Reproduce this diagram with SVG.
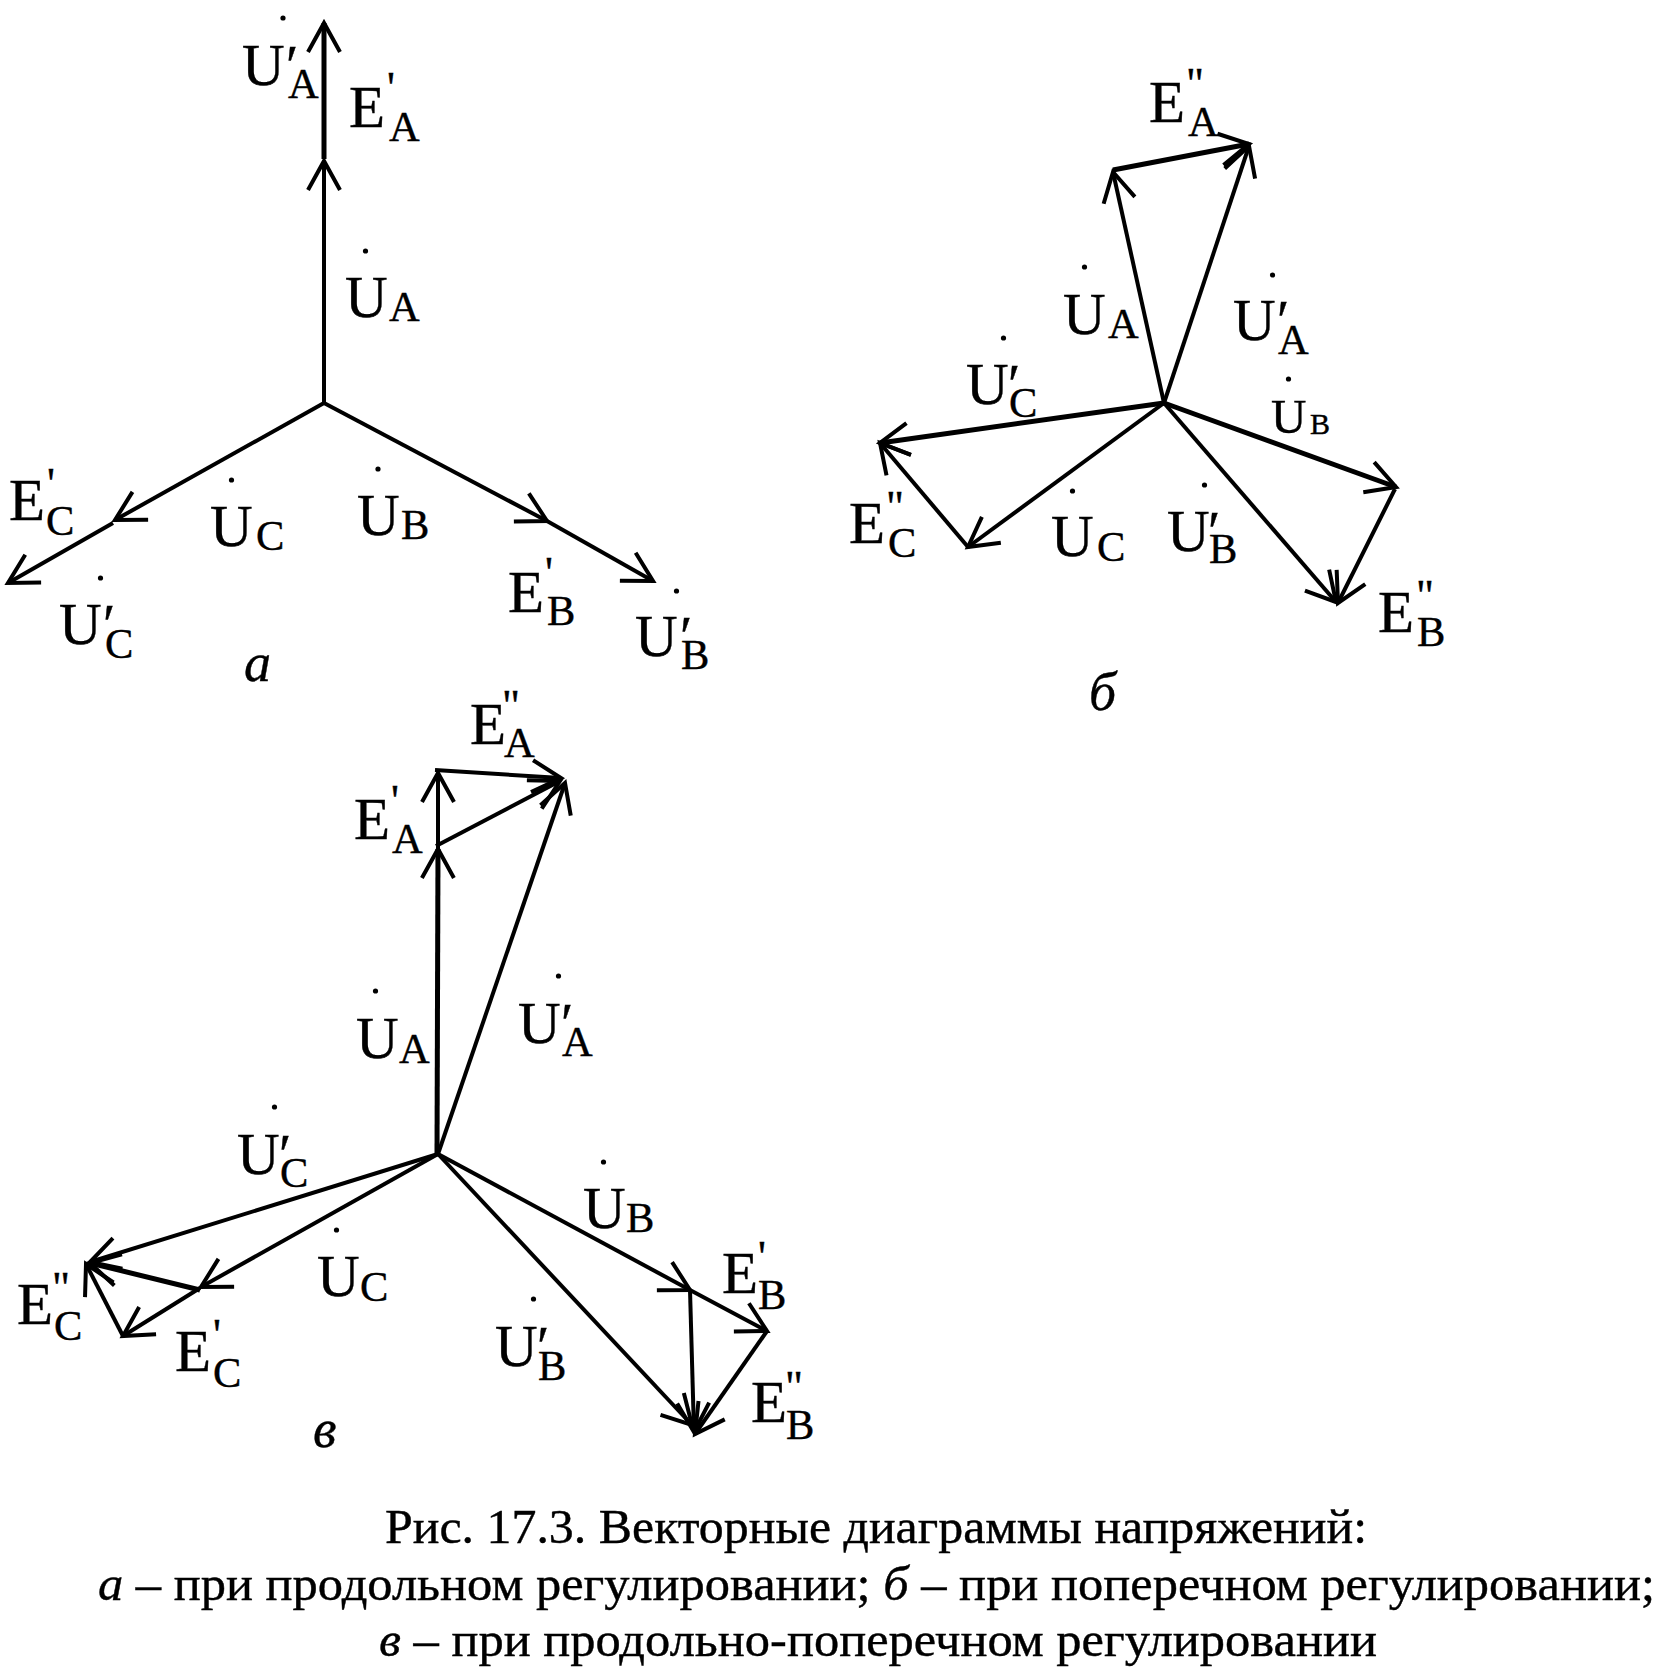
<svg xmlns="http://www.w3.org/2000/svg" width="1663" height="1669" viewBox="0 0 1663 1669">
<style>
text{font-family:"Liberation Serif","Times New Roman",serif;fill:#000;stroke:#000;stroke-width:.4}
.m{font-size:59px}.ms{font-size:49px}.s{font-size:42.5px}.xs{font-size:30px}.q{font-size:44px}.pr{font-size:56px}
.i{font-size:54px;font-style:italic}.c{font-size:47.5px}
.l{stroke:#000;stroke-width:4;fill:none;marker-end:url(#h)}.t{stroke-width:5}
</style>
<defs><marker id="h" markerUnits="userSpaceOnUse" markerWidth="80" markerHeight="80" viewBox="-40 -40 80 80" refX="0" refY="0" orient="auto" overflow="visible"><path d="M-29-16L0 0L-29 16" fill="none" stroke="#000" stroke-width="4"/></marker></defs>
<rect width="1663" height="1669" fill="#fff"/>
<g id="connectors">
<g id="conn-a">
<line class="l t" x1="324" y1="159" x2="324" y2="23"/>
<line class="l" x1="324" y1="403" x2="324" y2="161"/>
<line class="l" x1="324" y1="403" x2="115" y2="520"/>
<line class="l" x1="113" y1="523" x2="8" y2="583"/>
<line class="l" x1="324" y1="403" x2="547" y2="521"/>
<line class="l" x1="547" y1="521" x2="653" y2="581"/>
</g>
<g id="conn-b">
<line class="l" x1="1164" y1="403" x2="1113" y2="172"/>
<line class="l t" x1="1113" y1="170" x2="1249" y2="144"/>
<line class="l" x1="1164" y1="403" x2="1249" y2="146"/>
<line class="l t" x1="1164" y1="403" x2="880" y2="443"/>
<line class="l" x1="968" y1="547" x2="880" y2="443"/>
<line class="l" x1="1164" y1="403" x2="968" y2="547"/>
<line class="l t" x1="1164" y1="403" x2="1396" y2="487"/>
<line class="l" x1="1395" y1="489" x2="1338" y2="603"/>
<line class="l" x1="1164" y1="403" x2="1336" y2="602"/>
</g>
<g id="conn-c">
<line class="l t" x1="437" y1="1154" x2="438" y2="849"/>
<line class="l" x1="438" y1="849" x2="438" y2="773"/>
<line class="l" x1="435" y1="770" x2="561" y2="778"/>
<line class="l" x1="436" y1="846" x2="560" y2="781"/>
<line class="l" x1="438" y1="1154" x2="565" y2="783"/>
<line class="l" x1="438" y1="1154" x2="90" y2="1262"/>
<line class="l" x1="123" y1="1336" x2="86" y2="1264"/>
<line class="l t" x1="200" y1="1290" x2="90" y2="1263"/>
<line class="l" x1="438" y1="1154" x2="201" y2="1287"/>
<line class="l" x1="200" y1="1288" x2="123" y2="1336"/>
<line class="l" x1="438" y1="1154" x2="690" y2="1290"/>
<line class="l" x1="690" y1="1290" x2="767" y2="1331"/>
<line class="l" x1="767" y1="1331" x2="695" y2="1434"/>
<line class="l" x1="690" y1="1290" x2="694" y2="1432"/>
<line class="l" x1="438" y1="1154" x2="692" y2="1425"/>
</g>
</g>
<g id="labels" transform="translate(-2 0)">
<g id="a-ua2"><circle cx="285" cy="18" r="2.6"/><text class="m" x="244" y="85">U</text><text class="pr" x="288" y="85">′</text><text class="s" x="290" y="98">A</text></g>
<g id="a-ea"><text class="m" x="351" y="127">E</text><text class="q" x="389" y="102">'</text><text class="s" x="391" y="141">A</text></g>
<g id="a-ua"><circle cx="367.5" cy="251" r="2.6"/><text class="m" x="347" y="317">U</text><text class="s" x="391" y="321">A</text></g>
<g id="a-ec"><text class="m" x="11" y="520">E</text><text class="q" x="49" y="498">'</text><text class="s" x="48" y="535">C</text></g>
<g id="a-uc"><circle cx="233.5" cy="480" r="2.6"/><text class="m" x="212" y="546">U</text><text class="s" x="258" y="550">C</text></g>
<g id="a-ub"><circle cx="380" cy="469" r="2.6"/><text class="m" x="359" y="535">U</text><text class="s" x="403" y="539">B</text></g>
<g id="a-uc2"><circle cx="102.5" cy="578" r="2.6"/><text class="m" x="61" y="644">U</text><text class="pr" x="105" y="644">′</text><text class="s" x="107" y="658">C</text></g>
<g id="a-eb"><text class="m" x="510" y="612">E</text><text class="q" x="547" y="587">'</text><text class="s" x="549" y="625">B</text></g>
<g id="a-ub2"><circle cx="678.5" cy="591" r="2.6"/><text class="m" x="637" y="656">U</text><text class="pr" x="682" y="656">′</text><text class="s" x="683" y="669">B</text></g>
<g id="a-label"><text class="i" x="246" y="681">а</text></g>
<g id="b-ea"><text class="m" x="1151" y="122">E</text><text class="q" x="1188" y="98">"</text><text class="s" x="1190" y="136">A</text></g>
<g id="b-ua"><circle cx="1086.5" cy="267" r="2.6"/><text class="m" x="1065" y="334">U</text><text class="s" x="1110" y="338">A</text></g>
<g id="b-ua2"><circle cx="1274.5" cy="275" r="2.6"/><text class="m" x="1235" y="340">U</text><text class="pr" x="1279" y="340">′</text><text class="s" x="1280" y="354">A</text></g>
<g id="b-uc2"><circle cx="1005.5" cy="338" r="2.6"/><text class="m" x="968" y="404">U</text><text class="pr" x="1010" y="404">′</text><text class="s" x="1011" y="417">C</text></g>
<g id="b-ub"><circle cx="1290.5" cy="379" r="2.6"/><text class="ms" x="1273" y="433">U</text><text class="xs" x="1312" y="434">B</text></g>
<g id="b-ec"><text class="m" x="851" y="543">E</text><text class="q" x="888" y="521">"</text><text class="s" x="890" y="557">C</text></g>
<g id="b-uc"><circle cx="1074.5" cy="491" r="2.6"/><text class="m" x="1053" y="556">U</text><text class="s" x="1099" y="561">C</text></g>
<g id="b-ub2"><circle cx="1206.5" cy="485" r="2.6"/><text class="m" x="1169" y="551">U</text><text class="pr" x="1210" y="551">′</text><text class="s" x="1211" y="563">B</text></g>
<g id="b-eb"><text class="m" x="1380" y="632">E</text><text class="q" x="1418" y="610">"</text><text class="s" x="1419" y="646">B</text></g>
<g id="b-label"><text class="i" x="1091" y="710">б</text></g>
<g id="c-ea2"><text class="m" x="472" y="744">E</text><text class="q" x="504" y="720">"</text><text class="s" x="506" y="757">A</text></g>
<g id="c-ea"><text class="m" x="356" y="839">E</text><text class="q" x="393" y="815">'</text><text class="s" x="394" y="853">A</text></g>
<g id="c-ua"><circle cx="377.5" cy="991" r="2.6"/><text class="m" x="358" y="1058">U</text><text class="s" x="401" y="1063">A</text></g>
<g id="c-ua2"><circle cx="560.5" cy="976" r="2.6"/><text class="m" x="520" y="1043">U</text><text class="pr" x="563" y="1043">′</text><text class="s" x="564" y="1056">A</text></g>
<g id="c-uc2"><circle cx="276.5" cy="1107" r="2.6"/><text class="m" x="239" y="1174">U</text><text class="pr" x="281" y="1174">′</text><text class="s" x="282" y="1187">C</text></g>
<g id="c-uc"><circle cx="338.5" cy="1230" r="2.6"/><text class="m" x="319" y="1296">U</text><text class="s" x="362" y="1301">C</text></g>
<g id="c-ub"><circle cx="605.5" cy="1162" r="2.6"/><text class="m" x="585" y="1228">U</text><text class="s" x="628" y="1232">B</text></g>
<g id="c-eb"><text class="m" x="724" y="1293">E</text><text class="q" x="760" y="1271">'</text><text class="s" x="760" y="1309">B</text></g>
<g id="c-ub2"><circle cx="535.5" cy="1299" r="2.6"/><text class="m" x="497" y="1366">U</text><text class="pr" x="539" y="1366">′</text><text class="s" x="540" y="1380">B</text></g>
<g id="c-ec2"><text class="m" x="19" y="1324">E</text><text class="q" x="54" y="1302">"</text><text class="s" x="56" y="1340">C</text></g>
<g id="c-ec"><text class="m" x="177" y="1371">E</text><text class="q" x="215" y="1349">'</text><text class="s" x="215" y="1387">C</text></g>
<g id="c-eb2"><text class="m" x="753" y="1422">E</text><text class="q" x="787" y="1401">"</text><text class="s" x="788" y="1439">B</text></g>
<g id="c-label"><text class="i" x="315" y="1447">в</text></g>
</g>
<g id="caption">
<text class="c" x="385" y="1543" textLength="982" lengthAdjust="spacingAndGlyphs">Рис. 17.3. Векторные диаграммы напряжений:</text>
<text class="c" x="98" y="1600" textLength="1557" lengthAdjust="spacingAndGlyphs"><tspan font-style="italic">а</tspan> – при продольном регулировании; <tspan font-style="italic">б</tspan> – при поперечном регулировании;</text>
<text class="c" x="379" y="1656" textLength="998" lengthAdjust="spacingAndGlyphs"><tspan font-style="italic">в</tspan> – при продольно-поперечном регулировании</text>
</g>
</svg>
